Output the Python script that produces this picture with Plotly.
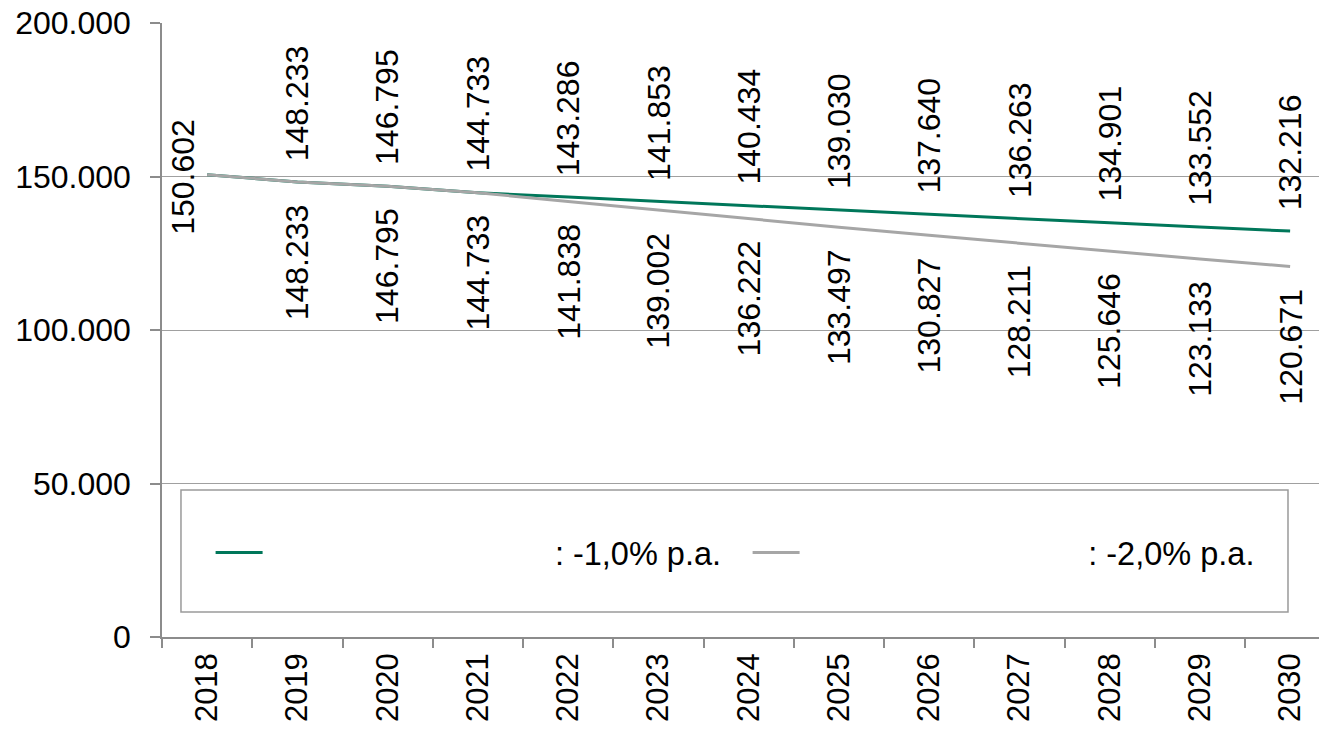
import plotly.graph_objects as go

years = ["2018", "2019", "2020", "2021", "2022", "2023", "2024", "2025", "2026", "2027", "2028", "2029", "2030"]
series_a_name = "Annahme (ab 2022)"
series_a_suffix = ": -1,0% p.a."
series_a = [150602, 148233, 146795, 144733, 143286, 141853, 140434, 139030, 137640, 136263, 134901, 133552, 132216]
series_b_name = "Alternativ (ab 2022)"
series_b_suffix = ": -2,0% p.a."
series_b = [150602, 148233, 146795, 144733, 141838, 139002, 136222, 133497, 130827, 128211, 125646, 123133, 120671]
y_ticks = [0, 50000, 100000, 150000, 200000]

GREEN = "#00775A"
GRAY = "#A6A6A6"
AXIS = "#8C8C8C"
FONT = "Liberation Sans, Arial, sans-serif"


def fmt(v):
    return f"{v:,}".replace(",", ".")


fig = go.Figure()
fig.add_trace(go.Scatter(
    x=years, y=series_a, mode="lines",
    line=dict(color=GREEN, width=3),
    name=f"<span style='color:white'>{series_a_name}</span>{series_a_suffix}",
))
fig.add_trace(go.Scatter(
    x=years, y=series_b, mode="lines",
    line=dict(color=GRAY, width=3),
    name=f"<span style='color:white'>{series_b_name}</span>{series_b_suffix}",
))

annotations = []
for i, (a, b) in enumerate(zip(series_a, series_b)):
    if i == 0:
        annotations.append(dict(x=i, y=a, xref="x", yref="y", text=fmt(a), showarrow=False,
                                textangle=-90, xanchor="center", yanchor="middle",
                                xshift=-24, yshift=-2,
                                font=dict(size=32, color="black", family=FONT)))
        continue
    annotations.append(dict(x=i, y=a, xref="x", yref="y", text=fmt(a), showarrow=False,
                            textangle=-90, xanchor="center", yanchor="bottom", yshift=19,
                            font=dict(size=32, color="black", family=FONT)))
    annotations.append(dict(x=i, y=b, xref="x", yref="y", text=fmt(b), showarrow=False,
                            textangle=-90, xanchor="center", yanchor="top", yshift=-20,
                            font=dict(size=32, color="black", family=FONT)))

fig.update_layout(
    width=1319, height=734,
    margin=dict(l=162, r=0, t=23, b=97),
    paper_bgcolor="white", plot_bgcolor="white",
    separators=",.",
    font=dict(family=FONT, size=30, color="black"),
    annotations=annotations,
    showlegend=True,
    legend=dict(
        orientation="h", x=0.042, y=0.137, xanchor="left", yanchor="middle",
        bgcolor="rgba(0,0,0,0)", borderwidth=0,
        font=dict(size=32.5, family=FONT, color="black"),
        itemwidth=47, entrywidth=475, entrywidthmode="pixels",
    ),
    shapes=[dict(type="rect", xref="paper", yref="paper",
                 x0=0.0164, x1=0.9732, y0=0.0407, y1=0.2394,
                 line=dict(color="#9A9A9A", width=1.5), fillcolor="white", layer="below")],
    xaxis=dict(
        type="category",
        range=[-0.5, 12.32],
        tickangle=-90, tickson="boundaries",
        ticks="outside", ticklen=9, tickcolor=AXIS, tickwidth=1.5,
        showline=True, linecolor=AXIS, linewidth=1.5,
        showgrid=False, zeroline=False, automargin=False,
        tickfont=dict(size=31, family=FONT, color="black"),
        ticklabelstandoff=2, ticklabeloverflow="allow",
    ),
    yaxis=dict(
        range=[0, 200000],
        tickmode="array", tickvals=y_ticks, ticktext=[fmt(v) for v in y_ticks],
        ticks="outside", ticklen=10, tickcolor=AXIS, tickwidth=1.5,
        showline=True, linecolor=AXIS, linewidth=1.5,
        showgrid=True, gridcolor="#A0A0A0", gridwidth=1, zeroline=False,
        automargin=False,
        tickfont=dict(size=32, family=FONT, color="black"),
        ticklabelstandoff=13, ticklabeloverflow="allow",
    ),
)

# remove the browser's default 8px body margin so the figure fills the window exactly
fig.write_html(
    "out.html",
    config={"displayModeBar": False},
    post_script="document.body.style.margin='0';document.body.style.overflow='hidden';",
)
